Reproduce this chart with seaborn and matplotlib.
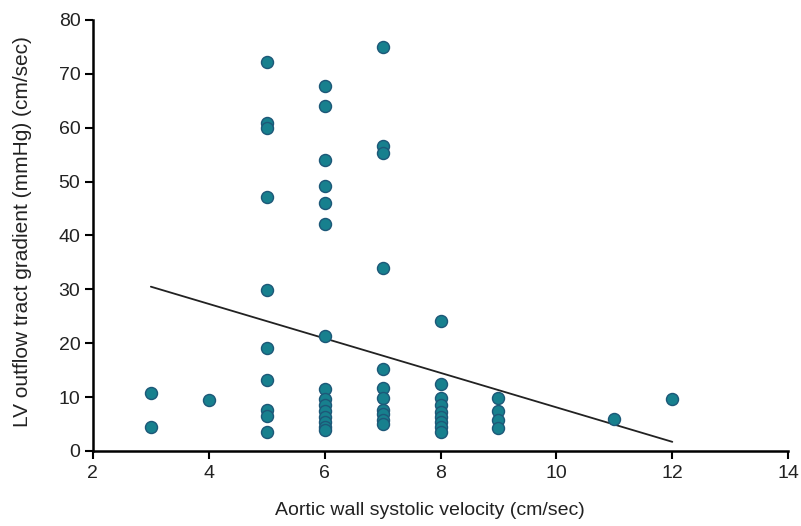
import matplotlib
matplotlib.use("Agg")
import matplotlib.pyplot as plt
import seaborn as sns
import pandas as pd

# Data
velocity = ([3] * 2 + [4] * 1 + [5] * 10 + [6] * 15 + [7] * 11 + [8] * 9 + [9] * 4 + [11] + [12])
gradient = [
    10.7, 4.5,
    9.5,
    72.2, 60.9, 60.0, 47.2, 29.8, 19.2, 13.2, 7.6, 6.5, 3.5,
    67.8, 64.0, 54.0, 49.1, 46.1, 42.2, 21.4, 11.5, 9.6, 8.5, 7.4, 6.4, 5.4, 4.5, 3.9,
    75.0, 56.6, 55.3, 34.0, 15.2, 11.7, 9.8, 7.6, 6.8, 5.8, 5.0,
    24.2, 12.5, 9.8, 8.5, 7.3, 6.3, 5.3, 4.5, 3.6,
    9.8, 7.5, 5.8, 4.3,
    5.9,
    9.6,
]
fit_x = [3, 12]
fit_y = [30.5, 1.7]
x_ticks = [2, 4, 6, 8, 10, 12, 14]
y_ticks = [0, 10, 20, 30, 40, 50, 60, 70, 80]

df = pd.DataFrame({"x": velocity, "y": gradient})
fit = pd.DataFrame({"x": fit_x, "y": fit_y})

sns.set_theme(style="white")
plt.rcParams["font.family"] = ["Liberation Sans", "DejaVu Sans"]

fig = plt.figure(figsize=(8.01, 5.26), dpi=100)
ax = fig.add_axes([0.116, 0.1426, 0.868, 0.8194])

sns.lineplot(data=fit, x="x", y="y", ax=ax, color="#222222", linewidth=1.3)
sns.scatterplot(data=df, x="x", y="y", ax=ax, s=75, color="#17808e",
                edgecolor="#1d5878", linewidth=1.0, zorder=3)

ax.set_xlim(2, 14)
ax.set_ylim(0, 80)
ax.set_xticks(x_ticks)
ax.set_yticks(y_ticks)
ax.tick_params(axis="both", which="major", direction="out", length=6, width=1.5,
               color="black", labelsize=14, labelcolor="#222222", left=True, bottom=True)
ax.tick_params(axis="x", pad=4)
ax.tick_params(axis="y", pad=3)

for s in ["top", "right"]:
    ax.spines[s].set_visible(False)
for s in ["left", "bottom"]:
    ax.spines[s].set_color("black")
    ax.spines[s].set_linewidth(1.8)

ax.set_xlabel("Aortic wall systolic velocity (cm/sec)", fontsize=14, color="#222222")
ax.set_ylabel("LV outflow tract gradient (mmHg) (cm/sec)", fontsize=15, color="#222222")
ax.xaxis.set_label_coords(0.485, -0.118)
ax.yaxis.set_label_coords(-0.088, 0.51)

fig.savefig("out.png", dpi=100)
